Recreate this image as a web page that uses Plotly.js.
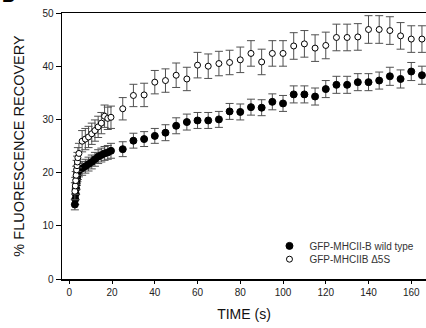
<!DOCTYPE html>
<html>
<head>
<meta charset="utf-8">
<script src="https://cdn.plot.ly/plotly-3.0.1.min.js"></script>
<style>
html,body{margin:0;padding:0;background:#fff;overflow:hidden;}
#chart{width:426px;height:328px;}
</style>
</head>
<body>
<div id="chart"></div>
<script>
// Time points (s)
const time = [2.6, 2.8, 3.0, 3.2, 3.4, 3.6, 3.8, 4.0, 4.5, 6, 7.5, 9, 10.5, 12, 13.5, 15, 16.5, 18, 19.5,
  25, 30, 35, 40, 45, 50, 55, 60, 65, 70, 75, 80, 85, 90, 95, 100, 105, 110, 115, 120,
  125, 130, 135, 140, 145, 150, 155, 160, 165];

// GFP-MHCII-B wild type (filled)
const wildType = [14.0, 15.0, 16.0, 17.0, 18.0, 18.8, 19.5, 20.0, 20.5, 20.8, 21.2, 21.6, 22.0, 22.5, 23.0, 23.3, 23.6, 23.8, 24.1,
  24.4, 26.0, 26.3, 26.9, 27.5, 28.8, 29.5, 29.8, 29.8, 30.0, 31.5, 31.4, 32.3, 32.2, 33.3, 33.0, 34.7, 34.7, 34.3, 35.7,
  36.5, 36.5, 37.0, 37.0, 37.3, 38.1, 37.6, 39.0, 38.3];
const wildTypeErr = [1.0, 1.0, 1.1, 1.1, 1.2, 1.2, 1.2, 1.3, 1.3, 1.3, 1.3, 1.3, 1.3, 1.3, 1.3, 1.3, 1.3, 1.3, 1.4,
  1.4, 1.4, 1.4, 1.4, 1.5, 1.5, 1.5, 1.5, 1.5, 1.5, 1.5, 1.5, 1.5, 1.5, 1.5, 1.5, 1.6, 1.6, 1.6, 1.6,
  1.6, 1.6, 1.6, 1.6, 1.6, 1.7, 1.7, 1.7, 1.7];

// GFP-MHCIIB Δ5S (open)
const delta5S = [16.5, 17.5, 18.5, 19.5, 20.5, 21.3, 22.0, 22.8, 23.6, 25.9, 26.3, 26.7, 27.3, 27.9, 28.6, 29.3, 30.6, 30.2, 30.4,
  32.0, 34.5, 34.6, 37.0, 37.3, 38.3, 37.6, 40.2, 40.0, 40.5, 40.7, 41.2, 42.4, 40.8, 42.4, 42.4, 43.8, 44.2, 43.4, 43.9,
  45.4, 45.4, 45.5, 46.9, 46.9, 46.7, 45.7, 45.1, 45.1];
const delta5SErr = [1.6, 1.6, 1.7, 1.7, 1.8, 1.8, 1.8, 1.9, 1.9, 2.0, 2.0, 2.0, 2.0, 2.0, 2.0, 2.0, 2.1, 2.1, 2.1,
  2.1, 2.1, 2.2, 2.2, 2.2, 2.3, 2.2, 2.4, 2.3, 2.3, 2.3, 2.4, 2.4, 2.4, 2.4, 2.4, 2.5, 2.5, 2.5, 2.5,
  2.5, 2.5, 2.5, 2.6, 2.6, 2.6, 2.5, 2.5, 2.5];

const seriesNames = ['GFP-MHCII-B wild type', 'GFP-MHCIIB \u03945S'];
const xTicks = [0, 20, 40, 60, 80, 100, 120, 140, 160];
const yTicks = [0, 10, 20, 30, 40, 50];

const font = 'Liberation Sans, Arial, sans-serif';

const traces = [
  {
    x: time, y: wildType, name: seriesNames[0], type: 'scatter', mode: 'markers', legend: 'legend',
    marker: {symbol: 'circle', size: 7, color: '#000', line: {color: '#000', width: 1}},
    error_y: {type: 'data', array: wildTypeErr, visible: true, color: '#505050', thickness: 1, width: 4}
  },
  {
    x: time, y: delta5S, name: seriesNames[1], type: 'scatter', mode: 'markers', legend: 'legend2',
    marker: {symbol: 'circle', size: 6, color: '#fff', line: {color: '#000', width: 1}},
    error_y: {type: 'data', array: delta5SErr, visible: true, color: '#505050', thickness: 1, width: 4}
  }
];

const legendBase = {
  xanchor: 'left', yanchor: 'top',
  bgcolor: 'rgba(0,0,0,0)', borderwidth: 0,
  font: {family: font, size: 10, color: '#333'},
  tracegroupgap: 0, itemwidth: 30
};

const layout = {
  width: 426, height: 328,
  margin: {l: 62, r: 0, t: 13, b: 49, pad: 0},
  paper_bgcolor: '#fff', plot_bgcolor: '#fff',
  font: {family: font, color: '#222', size: 10},
  showlegend: true,
  legend: Object.assign({}, legendBase, {x: 0.57, y: 0.179}),
  legend2: Object.assign({}, legendBase, {x: 0.57, y: 0.129}),
  xaxis: {
    range: [-3.42, 166.9], tickvals: xTicks, ticktext: xTicks.map(String),
    showgrid: false, zeroline: false, showline: true, linecolor: '#000', linewidth: 1.5,
    mirror: true, ticks: 'outside', ticklen: 3, tickwidth: 1, tickcolor: '#000',
    tickfont: {family: font, size: 10, color: '#222'},
    title: {text: 'TIME (s)', font: {family: font, size: 14, color: '#111'}, standoff: 12}
  },
  yaxis: {
    range: [0, 50], tickvals: yTicks, ticktext: yTicks.map(String),
    showgrid: false, zeroline: false, showline: true, linecolor: '#000', linewidth: 1.5,
    mirror: false, ticks: 'outside', ticklen: 5, tickwidth: 1, tickcolor: '#000',
    tickfont: {family: font, size: 10, color: '#222'},
    title: {text: '% FLUORESCENCE RECOVERY', font: {family: font, size: 14.5, color: '#111'}, standoff: 14}
  },
  annotations: [
    {text: '<b>B</b>', xref: 'paper', yref: 'paper', x: -0.17, y: 1.02, xanchor: 'left', yanchor: 'bottom',
     showarrow: false, font: {family: font, size: 18, color: '#000'}}
  ]
};

Plotly.newPlot('chart', traces, layout, {staticPlot: true, displayModeBar: false});
</script>
</body>
</html>
